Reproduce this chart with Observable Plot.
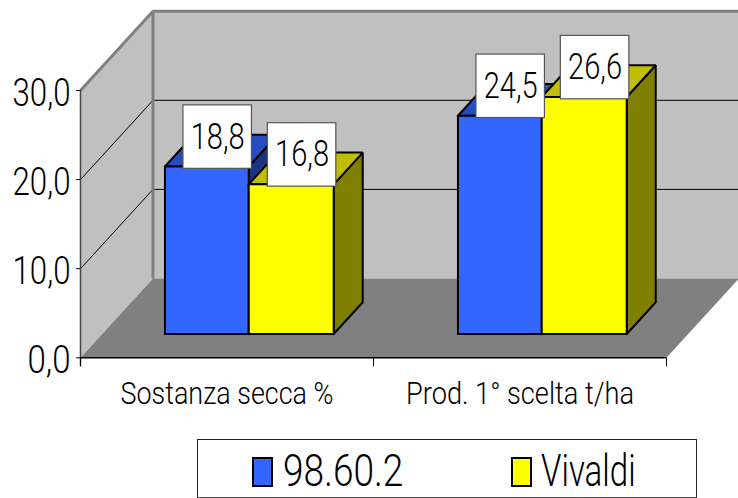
<!DOCTYPE html>
<html>
<head>
<meta charset="utf-8">
<script src="https://cdn.jsdelivr.net/npm/d3@7"></script>
<script src="https://cdn.jsdelivr.net/npm/@observablehq/plot@0.6"></script>
<style>
html,body{margin:0;padding:0;background:#fff;overflow:hidden}
#wrap{position:relative;width:738px;height:498px;font-family:Roboto,"Liberation Sans",sans-serif;font-weight:300;color:#000}
#legend{position:absolute;left:197px;top:439px;width:498px;height:57px;border:1px solid #222;border-bottom-color:#555;font-size:45px;line-height:57px;box-sizing:content-box}
#legend span{position:absolute;top:2px;white-space:nowrap;transform-origin:left center}
#legend i{position:absolute;top:17px;width:17px;height:26px;border:2px solid #000;display:block}
</style>
</head>
<body>
<div id="wrap"></div>
<script>
const categories = ["Sostanza secca %", "Prod. 1° scelta t/ha"];
const seriesNames = ["98.60.2", "Vivaldi"];
const values9860 = [18.8, 24.5];
const valuesVivaldi = [16.8, 26.6];
const yTicks = [0, 10, 20, 30];
const frontColors = ["#3366ff", "#ffff00"];
const topColors = ["#264dbf", "#bfbf00"];
const sideColors = ["#1a3380", "#808000"];

// oblique depth: depth 1 shifts a point by these amounts in data units
const DX = 0.2474, DY = 8.9;
const pX = (x, d) => x + d * DX;
const pY = (v, d) => v + d * DY;
const face = (pts, fill, stroke, sw) =>
  Plot.line([...pts, pts[0]], {
    x: p => pX(p[0], p[2]), y: p => pY(p[1], p[2]),
    fill, stroke: stroke ?? "none", strokeWidth: sw ?? 1,
    strokeLinejoin: "miter", strokeLinecap: "square"
  });
const seg = (pts, stroke, sw) =>
  Plot.line(pts, {
    x: p => pX(p[0], p[2]), y: p => pY(p[1], p[2]),
    stroke, strokeWidth: sw, strokeLinecap: "butt"
  });

const d0 = 0.3, d1 = 0.7, b0 = 0.214, bm = 0.5, b1 = 0.79;
const bars = [];
categories.forEach((c, i) => {
  [values9860[i], valuesVivaldi[i]].forEach((v, s) => {
    const xa = i + (s === 0 ? b0 : bm), xb = i + (s === 0 ? bm : b1);
    bars.push({c, s, v, xa, xb});
  });
});
const barMarks = bars.flatMap(({s, v, xa, xb}) => [
  face([[xb,0,d0],[xb,0,d1],[xb,v,d1],[xb,v,d0]], sideColors[s], "#000", 2),
  face([[xa,v,d0],[xb,v,d0],[xb,v,d1],[xa,v,d1]], topColors[s], "#000", 2),
  face([[xa,0,d0],[xb,0,d0],[xb,v,d0],[xa,v,d0]], frontColors[s], "#000", 2)
]);
const fmt = d => d.toFixed(1).replace(".", ",");
const lx = b => pX((b.xa + b.xb) / 2, 0.49) - 0.01;
const ly = b => pY(b.v, 0.3) + 3.3;

const chart = Plot.plot({
  width: 738, height: 438,
  marginLeft: 80, marginRight: 72, marginTop: 90, marginBottom: 80.7,
  x: {domain: [0, 2]},
  y: {domain: [0, 30]},
  style: {fontFamily: 'Roboto,"Liberation Sans",sans-serif', fontWeight: 300, background: "#fff", color: "#000"},
  marks: [
    face([[0,0,0],[0,0,1],[0,30,1],[0,30,0]], "#c0c0c0"),
    face([[0,0,1],[2,0,1],[2,30,1],[0,30,1]], "#c0c0c0"),
    face([[0,0,0],[2,0,0],[2,0,1],[0,0,1]], "#808080"),
    ...[10, 20].map(t => seg([[0,t,0],[0,t,1],[2,t,1]], "#000", 1)),
    seg([[0,30,0],[0,30,1],[2,30,1]], "#808080", 3),
    seg([[0,0,1],[0,30,1]], "#808080", 3),
    ...barMarks,
    Plot.ruleX([0], {y1: -1, y2: 30, stroke: "#444", strokeWidth: 1.5}),
    Plot.ruleY([0], {x1: 0, x2: 2, stroke: "#000", strokeWidth: 1.5}),
    Plot.axisY({ticks: yTicks, tickFormat: () => "", tickSize: 4, label: null}),
    Plot.axisY({ticks: yTicks, tickFormat: fmt, tickSize: 0, tickPadding: 10, dy: 3, fontSize: 39, label: null, className: "ytext"}),
    Plot.axisX({ticks: [0, 1, 2], tickFormat: () => "", tickSize: 9, label: null}),
    Plot.axisX({ticks: [0.5, 1.5], tickFormat: t => categories[t - 0.5], tickSize: 0, tickPadding: 23, fontSize: 32, label: null, className: "xtext"}),
    Plot.rect(bars, {
      x1: b => lx(b) - 0.1169, x2: b => lx(b) + 0.1169,
      y1: b => ly(b) - 3.56, y2: b => ly(b) + 3.56,
      fill: "#fff", stroke: "#555", strokeWidth: 1.2, inset: 0
    }),
    Plot.text(bars, {
      x: lx, y: ly, text: b => fmt(b.v), fontSize: 36, fill: "#000",
      textAnchor: "middle", lineAnchor: "middle", className: "vtext"
    })
  ]
});
const wrap = document.getElementById("wrap");
wrap.appendChild(chart);

// The reference face is a narrow gothic: condense the installed sans to the measured widths.
const fit = (selector, width) => {
  chart.querySelectorAll(selector).forEach(t => {
    if (!t.textContent) return;
    t.setAttribute("textLength", width(t.textContent));
    t.setAttribute("lengthAdjust", "spacingAndGlyphs");
  });
};
fit(".ytext text", s => s === "0,0" ? 43 : 58);
fit(".xtext text", s => s === categories[0] ? 213 : 228);
fit(".vtext text", () => 54);

const legend = document.createElement("div");
legend.id = "legend";
const swatchX = [54, 313], labelX = [85, 343], labelWidth = [120, 95];
seriesNames.forEach((n, s) => {
  const i = document.createElement("i");
  i.style.left = swatchX[s] + "px";
  i.style.background = frontColors[s];
  const t = document.createElement("span");
  t.style.left = labelX[s] + "px";
  t.textContent = n;
  legend.append(i, t);
});
wrap.appendChild(legend);
legend.querySelectorAll("span").forEach((t, s) => {
  t.style.transform = `scaleX(${labelWidth[s] / t.offsetWidth})`;
});
</script>
</body>
</html>
